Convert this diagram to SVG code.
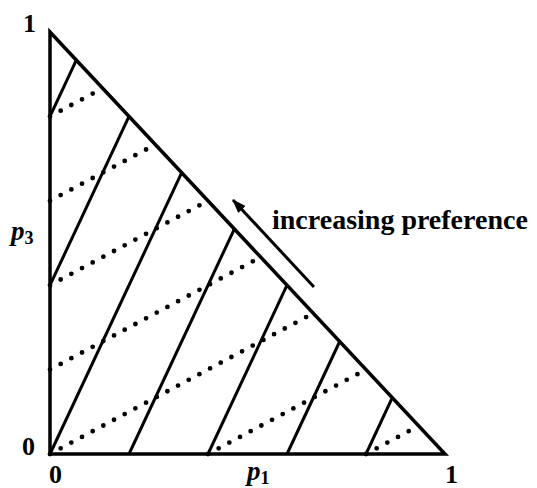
<svg xmlns="http://www.w3.org/2000/svg" width="537" height="488" viewBox="0 0 537 488">
<style>
.edge{fill:none;stroke:#000;stroke-width:3.5;stroke-linejoin:miter}
.solid{stroke:#000;stroke-width:3;fill:none}
.dot{stroke:#000;stroke-width:4.8;stroke-linecap:round;stroke-dasharray:0 12.1;fill:none}
.num{font-family:"Liberation Serif",serif;font-size:26px;font-weight:bold;fill:#000}
.var{font-family:"Liberation Serif",serif;font-size:27px;font-style:italic;font-weight:bold;fill:#000}
.sub{font-family:"Liberation Serif",serif;font-size:18px;font-weight:bold;fill:#000}
.lbl{font-family:"Liberation Serif",serif;font-size:28px;font-weight:bold;fill:#000}
</style>
<defs>
<marker id="ah" markerUnits="userSpaceOnUse" markerWidth="16" markerHeight="12" refX="13" refY="5" orient="auto">
<path d="M0,0 L14,5 L0,10 Z" fill="#000"/>
</marker>
</defs>
<rect width="537" height="488" fill="#fff"/>
<g id="triangle">
<path class="edge" d="M50,32 L50,454 L445,454 Z"/>
</g>
<g id="connectors">
<g id="solid-lines">
<line class="solid" x1="50" y1="116.4" x2="76.3" y2="60.1"/>
<line class="solid" x1="50" y1="285.2" x2="129" y2="116.4"/>
<line class="solid" x1="50" y1="454" x2="181.7" y2="172.7"/>
<line class="solid" x1="129" y1="454" x2="234.3" y2="229.1"/>
<line class="solid" x1="208" y1="454" x2="287" y2="285.2"/>
<line class="solid" x1="287" y1="454" x2="339.7" y2="341.5"/>
<line class="solid" x1="366" y1="454" x2="392.3" y2="397.7"/>
</g>
<g id="dotted-lines">
<line class="dot" x1="50" y1="116.4" x2="100" y2="89.7"/>
<line class="dot" x1="50" y1="200.8" x2="152" y2="146.3"/>
<line class="dot" x1="50" y1="285.2" x2="204" y2="202.9"/>
<line class="dot" x1="50" y1="369.6" x2="257" y2="259.1"/>
<line class="dot" x1="50" y1="454" x2="310" y2="315"/>
<line class="dot" x1="208" y1="454" x2="362" y2="371.7"/>
<line class="dot" x1="366" y1="454" x2="415" y2="427.8"/>
</g>
<g id="arrow">
<line x1="314" y1="287" x2="233" y2="200" stroke="#000" stroke-width="3" marker-end="url(#ah)"/>
</g>
</g>
<g id="labels">
<text class="num" x="23" y="32">1</text>
<text class="num" x="22" y="455">0</text>
<text class="num" x="49" y="483">0</text>
<text class="num" x="445" y="483">1</text>
<text x="247" y="480"><tspan class="var">p</tspan><tspan class="sub" dy="4">1</tspan></text>
<text x="11" y="240"><tspan class="var">p</tspan><tspan class="sub" dy="4">3</tspan></text>
<text class="lbl" x="272" y="229">increasing preference</text>
</g>
</svg>
